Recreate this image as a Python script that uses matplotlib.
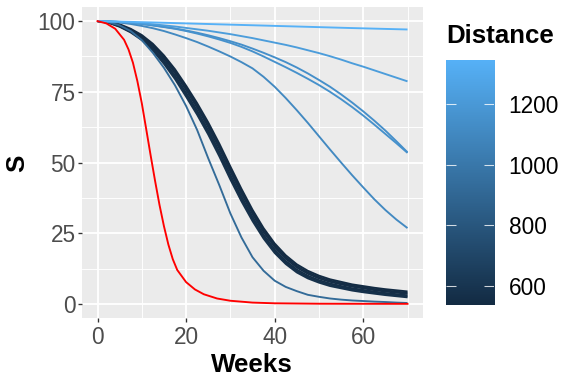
import numpy as np
import matplotlib
matplotlib.use('Agg')
import matplotlib.pyplot as plt
from matplotlib.colors import LinearSegmentedColormap, Normalize

plt.rcParams['font.family'] = ['Liberation Sans', 'DejaVu Sans']

# common week grid for the distance-coloured curves
weeks = np.arange(0, 72.5, 2.5)

# dark bundle (shortest distances)
bundle_1 = [100, 99.8, 98.9, 97.3, 95.1, 92.0, 87.9, 83.0, 77.2, 71.0, 64.2, 56.7, 48.6, 40.7, 33.3,
            26.8, 21.4, 17.2, 14.0, 11.7, 10.0, 8.7, 7.8, 6.9, 6.3, 5.7, 5.2, 4.8, 4.4]
bundle_2 = [100, 99.72, 98.68, 97.0, 94.76, 91.54, 87.33, 82.29, 76.41, 70.17, 63.33, 55.8, 47.73,
            39.86, 32.54, 26.05, 20.75, 16.56, 13.4, 11.14, 9.48, 8.24, 7.31, 6.48, 5.88, 5.25, 4.75,
            4.35, 3.95]
bundle_3 = [100, 99.65, 98.51, 96.76, 94.43, 91.1, 86.78, 81.64, 75.69, 69.41, 62.54, 54.96, 46.88,
            39.05, 31.8, 25.36, 20.13, 15.99, 12.86, 10.64, 9.01, 7.8, 6.89, 6.08, 5.48, 4.86, 4.36,
            3.96, 3.56]
bundle_4 = [100, 99.55, 98.29, 96.44, 93.97, 90.5, 86.02, 80.76, 74.71, 68.39, 61.46, 53.84, 45.72,
            37.95, 30.8, 24.44, 19.27, 15.21, 12.14, 9.96, 8.39, 7.2, 6.31, 5.52, 4.92, 4.34, 3.84,
            3.44, 3.04]
bundle_5 = [100, 99.48, 98.12, 96.2, 93.64, 90.06, 85.47, 80.11, 73.99, 67.63, 60.67, 53.0, 44.87,
            37.14, 30.06, 23.75, 18.65, 14.64, 11.6, 9.46, 7.92, 6.76, 5.89, 5.12, 4.52, 3.95, 3.45,
            3.05, 2.65]
bundle_6 = [100, 99.4, 98.0, 96.0, 93.3, 89.6, 84.9, 79.5, 73.3, 66.9, 59.9, 52.2, 44.0, 36.3, 29.3,
            23.1, 18.0, 14.1, 11.1, 9.0, 7.5, 6.3, 5.5, 4.7, 4.1, 3.6, 3.1, 2.7, 2.3]
medium = [100, 99.6, 98.5, 96.5, 93.3, 88.8, 83.5, 77.3, 70.0, 61.5, 51.5, 42.0, 32.0, 23.5, 16.5,
          11.7, 8.2, 6.0, 4.5, 3.2, 2.5, 1.9, 1.5, 1.2, 1.0, 0.8, 0.65, 0.45, 0.3]
far_27 = [100, 99.85, 99.5, 99.0, 98.3, 97.5, 96.5, 95.3, 94.0, 92.6, 91.0, 89.3, 87.5, 85.5, 83.3,
          80.3, 76.8, 72.8, 68.5, 64.0, 59.3, 54.6, 50.0, 45.5, 41.2, 37.0, 33.2, 29.8, 26.8]
far_54a = [100, 99.9, 99.7, 99.4, 99.0, 98.5, 98.0, 97.4, 96.7, 95.9, 95.0, 94.0, 92.9, 91.7, 90.3,
           88.8, 87.2, 85.5, 83.6, 81.5, 79.2, 76.8, 74.1, 71.2, 68.1, 64.8, 61.3, 57.5, 53.6]
far_54b = [100, 99.9, 99.7, 99.4, 99.0, 98.5, 97.9, 97.3, 96.5, 95.6, 94.6, 93.5, 92.3, 90.9, 89.3,
           87.5, 85.6, 83.7, 81.7, 79.6, 77.4, 75.0, 72.4, 69.6, 66.6, 63.4, 60.1, 56.8, 53.4]
far_79 = [100, 99.9, 99.75, 99.5, 99.2, 98.9, 98.5, 98.1, 97.6, 97.1, 96.6, 96.0, 95.4, 94.7, 94.0,
          93.2, 92.4, 91.6, 90.7, 89.7, 88.7, 87.6, 86.4, 85.1, 83.9, 82.6, 81.3, 80.0, 78.7]
far_97 = [100, 99.92, 99.83, 99.74, 99.63, 99.53, 99.42, 99.31, 99.2, 99.09, 98.98, 98.87, 98.76,
          98.65, 98.54, 98.43, 98.32, 98.21, 98.1, 97.99, 97.88, 97.77, 97.66, 97.55, 97.45, 97.35,
          97.25, 97.15, 97.05]

series = [bundle_1, bundle_2, bundle_3, bundle_4, bundle_5, bundle_6, medium,
          far_27, far_54a, far_54b, far_79, far_97]
distances = [538, 545, 552, 560, 568, 578, 920, 1100, 1140, 1150, 1220, 1344]

# red reference curve
red_weeks = [0, 2, 4, 6, 7, 8, 9, 10, 11, 12, 13, 14, 15, 16, 17, 18, 20, 22, 24, 27, 30, 35, 40, 50, 60, 70]
red_s = [100, 99.2, 97.3, 93.4, 90.0, 85.3, 78.8, 71.0, 61.8, 52.5, 43.5, 35.0, 27.5, 21.0, 15.8,
         12.0, 7.7, 5.1, 3.4, 1.9, 1.1, 0.45, 0.2, 0.05, 0.02, 0.01]

cmap = LinearSegmentedColormap.from_list('gg', ['#132B43', '#56B1F7'])
norm = Normalize(min(distances), max(distances))

fig = plt.figure(figsize=(6, 4), dpi=96)
ax = fig.add_axes([82 / 576, 1 - 318 / 384, 341 / 576, 311 / 384])
ax.set_facecolor('#EBEBEB')
for sp in ax.spines.values():
    sp.set_visible(False)

for s, d in zip(series, distances):
    ax.plot(weeks, s, color=cmap(norm(d)), lw=1.42, solid_capstyle='butt')
ax.plot(red_weeks, red_s, color='red', lw=1.42)

ax.set_xlim(-3.5, 73.5)
ax.set_ylim(-5, 105)
ax.set_xticks([0, 20, 40, 60])
ax.set_yticks([0, 25, 50, 75, 100])
ax.set_xticks([10, 30, 50, 70], minor=True)
ax.set_yticks([12.5, 37.5, 62.5, 87.5], minor=True)
ax.grid(which='major', color='white', lw=1.4)
ax.grid(which='minor', color='white', lw=0.7)
ax.set_axisbelow(True)
ax.tick_params(which='major', length=3.3, width=1.0, color='#333333',
               labelsize=17, labelcolor='#4D4D4D', pad=1.5)
ax.tick_params(axis='x', which='major', pad=2.5)
ax.tick_params(which='minor', length=0)

fig.text(17 / 576, 1 - 163 / 384, 'S', rotation=90, ha='center', va='center',
         fontsize=19.5, fontweight='bold')
fig.text(252 / 576, 1 - 372 / 384, 'Weeks', ha='center', va='baseline',
         fontsize=19.5, fontweight='bold')

# colour bar legend
cax = fig.add_axes([446 / 576, 1 - 305 / 384, 48 / 576, 245 / 384])
grad = np.linspace(norm.vmin, norm.vmax, 256).reshape(-1, 1)
cax.imshow(grad, cmap=cmap, norm=norm, aspect='auto', origin='lower',
           extent=[0, 1, norm.vmin, norm.vmax])
cax.set_xlim(0, 1)
cax.set_ylim(norm.vmin, norm.vmax)
for sp in cax.spines.values():
    sp.set_visible(False)
bar_ticks = [600, 800, 1000, 1200]
cax.hlines(bar_ticks, 0, 0.2, color='white', lw=0.8, alpha=0.8)
cax.hlines(bar_ticks, 0.8, 1, color='white', lw=0.8, alpha=0.8)
cax.set_xticks([])
cax.yaxis.tick_right()
cax.set_yticks(bar_ticks)
cax.set_yticklabels([str(t) for t in bar_ticks])
cax.tick_params(axis='y', length=0, pad=11, labelsize=17, labelcolor='black')
fig.text(446 / 576, 1 - 43 / 384, 'Distance', ha='left', va='baseline',
         fontsize=19.4, fontweight='bold')

plt.savefig('out.png', dpi=96)
